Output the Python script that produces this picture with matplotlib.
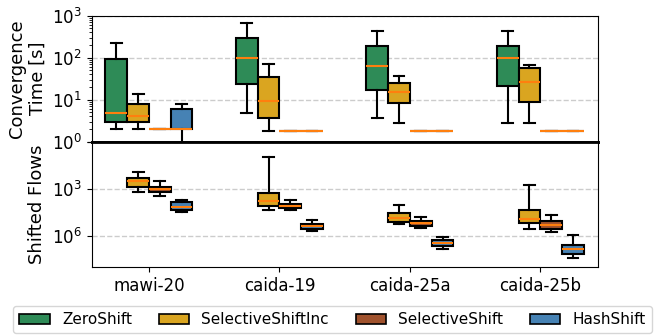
import matplotlib
matplotlib.use("Agg")
import matplotlib.pyplot as plt
from matplotlib.patches import Patch
import numpy as np

datasets = ["mawi-20", "caida-19", "caida-25a", "caida-25b"]
methods = ["ZeroShift", "SelectiveShiftInc", "SelectiveShift", "HashShift"]
colors = ["#2E8B57", "#DAA520", "#A0522D", "#4682B4"]

# Convergence time [s]: (whislo, q1, med, q3, whishi) per dataset
conv_zero = [(2.0, 3.0, 4.9, 95, 230), (4.8, 23.6, 99, 300, 656),
             (3.75, 17.2, 65, 187, 428), (2.8, 20.7, 100, 195, 428)]
conv_selinc = [(2.0, 3.0, 4.0, 8.0, 14), (1.77, 3.75, 9.4, 35, 72),
               (2.8, 8.3, 15.2, 25, 36.6), (2.8, 8.9, 27, 56, 68)]
conv_sel = [(2.0, 2.0, 2.0, 2.0, 2.0), (1.77, 1.77, 1.77, 1.77, 1.77),
            (1.77, 1.77, 1.77, 1.77, 1.77), (1.77, 1.77, 1.77, 1.77, 1.77)]
conv_hash = [(0.8, 2.0, 2.0, 6.0, 8.0), (1.77, 1.77, 1.77, 1.77, 1.77),
             (1.77, 1.77, 1.77, 1.77, 1.77), (1.77, 1.77, 1.77, 1.77, 1.77)]

# Shifted flows: (whislo, q1, med, q3, whishi) per dataset (ZeroShift shifts none)
flows_zero = [None, None, None, None]
flows_selinc = [(82, 200, 340, 750, 1550), (10, 1950, 6100, 12600, 24000),
                (10500, 37000, 70000, 126000, 186000), (560, 22000, 85000, 155000, 350000)]
flows_sel = [(325, 750, 1100, 1700, 2800), (5300, 9100, 12600, 17800, 24000),
             (65000, 110000, 160000, 250000, 320000), (48000, 110000, 200000, 350000, 580000)]
flows_hash = [(5500, 6700, 14000, 23000, 32000), (1.0e5, 1.7e5, 2.5e5, 3.7e5, 5.0e5),
              (1.15e6, 1.96e6, 3.1e6, 4.6e6, 7.1e6), (9.4e5, 3.9e6, 7.4e6, 1.4e7, 2.5e7)]

conv = [conv_zero, conv_selinc, conv_sel, conv_hash]
flows = [flows_zero, flows_selinc, flows_sel, flows_hash]

fig = plt.figure(figsize=(6.54, 3.35), dpi=100)
ax1 = fig.add_axes([0.140, 0.577, 0.774, 0.376])
ax2 = fig.add_axes([0.140, 0.203, 0.774, 0.374], sharex=ax1)

width = 1 / 6
x = np.arange(len(datasets))

def draw(ax, data):
    for j, series in enumerate(data):
        stats, pos = [], []
        for i, s in enumerate(series):
            if s is None:
                continue
            lo, q1, med, q3, hi = s
            stats.append(dict(whislo=lo, q1=q1, med=med, q3=q3, whishi=hi, fliers=[]))
            pos.append(x[i] + (j - 1.5) * width)
        if not stats:
            continue
        ax.bxp(stats, positions=pos, widths=width, patch_artist=True, showfliers=False,
               boxprops=dict(facecolor=colors[j], edgecolor="black", linewidth=1.5),
               medianprops=dict(color="#ff7f0e", linewidth=1.5),
               whiskerprops=dict(color="black", linewidth=1.5),
               capprops=dict(color="black", linewidth=1.5), manage_ticks=False)

draw(ax1, conv)
draw(ax2, flows)

ax1.set_yscale("log")
ax1.set_ylim(1, 1000)
ax1.set_ylabel("Convergence\nTime [s]", fontsize=13)
ax1.grid(axis="y", which="major", linestyle="--", color="#cccccc", linewidth=1)
ax1.set_axisbelow(True)
ax1.tick_params(labelbottom=False, bottom=False, labelsize=12)

ax2.set_yscale("log")
ax2.set_ylim(1e8, 1)
ax2.set_yticks([1, 1e3, 1e6])
ax2.set_yticklabels(["", "$\\mathdefault{10^{3}}$", "$\\mathdefault{10^{6}}$"])
ax2.yaxis.set_minor_locator(matplotlib.ticker.NullLocator())
ax2.set_ylabel("Shifted Flows", fontsize=13)
ax2.grid(axis="y", which="major", linestyle="--", color="#cccccc", linewidth=1)
ax2.set_axisbelow(True)
ax2.tick_params(labelsize=12)
ax2.set_xticks(x)
ax2.set_xticklabels(datasets, fontsize=12)
ax2.set_xlim(-0.44, 3.44)

ax1.spines["bottom"].set_linewidth(2)
ax2.spines["top"].set_linewidth(2)

handles = [Patch(facecolor=c, edgecolor="black", linewidth=1.2, label=m) for c, m in zip(colors, methods)]
fig.legend(handles=handles, loc="lower left", bbox_to_anchor=(0.02, 0.005, 0.977, 0.08),
           mode="expand", ncol=4, fontsize=11, frameon=True, handlelength=2.0,
           borderaxespad=0.0)

fig.savefig("out.png", dpi=100)
